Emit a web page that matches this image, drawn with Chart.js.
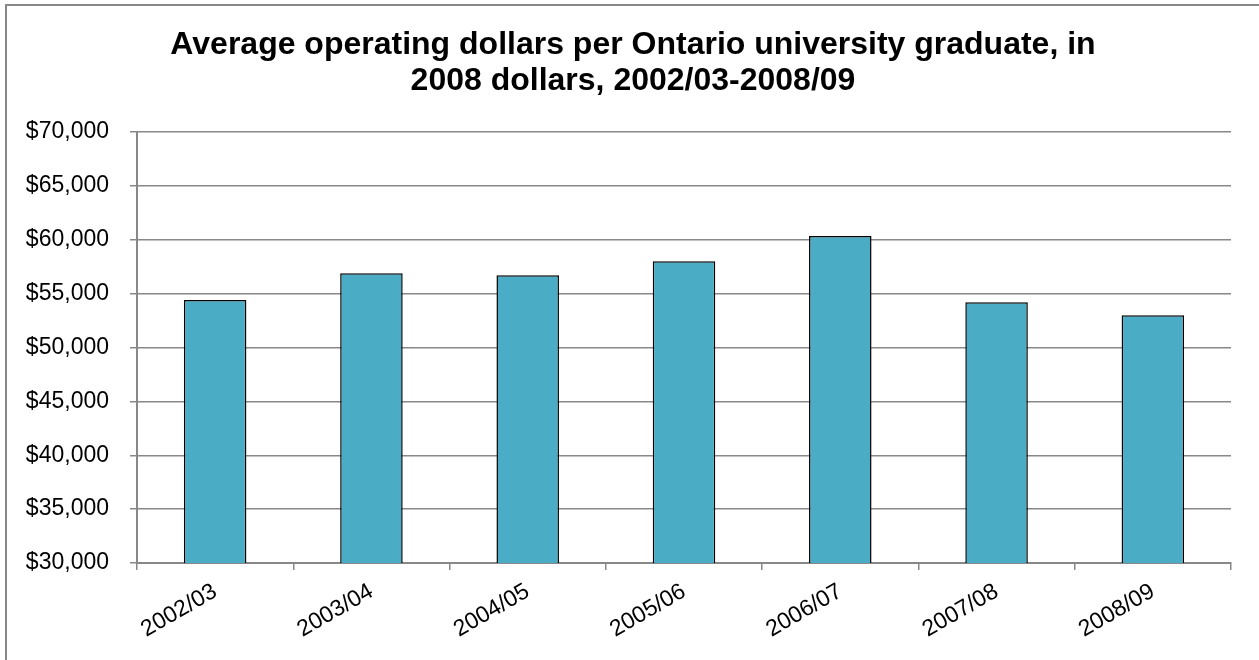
<!DOCTYPE html>
<html>
<head>
<meta charset="utf-8">
<title>Average operating dollars per Ontario university graduate</title>
<script src="https://cdn.jsdelivr.net/npm/chart.js@4/dist/chart.umd.min.js"></script>
<style>
  html, body { margin: 0; padding: 0; background: #fff; overflow: hidden; }
  #wrap { position: relative; width: 1259px; height: 660px; }
  #frame {
    position: absolute; left: 5px; top: 4px; width: 1300px; height: 700px;
    border-left: 2px solid #888; border-top: 2px solid #888; pointer-events: none;
  }
  canvas { position: absolute; left: 0; top: 0; }
</style>
</head>
<body>
<div id="wrap">
  <canvas id="chart" width="1259" height="660"></canvas>
  <div id="frame"></div>
</div>
<script>
var years = ['2002/03', '2003/04', '2004/05', '2005/06', '2006/07', '2007/08', '2008/09'];
var dollarsPerGrad = [54400, 56900, 56700, 58000, 60350, 54200, 53000];
var titleLines = [
    'Average operating dollars per Ontario university graduate, in',
    '2008 dollars, 2002/03-2008/09'
];
var yMin = 30000, yMax = 70000, yStep = 5000;

var FONT = '"Liberation Sans", Arial, sans-serif';
var GRAY = '#888888';

/* title is centred on the whole frame, not on the canvas minus axis padding */
var frameTitle = {
    id: 'frameTitle',
    afterDraw: function(chart, args, opts) {
        var c = chart.ctx;
        c.save();
        c.fillStyle = '#000';
        c.font = 'bold ' + opts.size + 'px ' + FONT;
        c.textAlign = 'center';
        c.textBaseline = 'alphabetic';
        for (var i = 0; i < opts.lines.length; i++) {
            c.fillText(opts.lines[i], opts.x, opts.y + i * opts.lineHeight);
        }
        c.restore();
    }
};

var ctx = document.getElementById('chart').getContext('2d');
var chart = new Chart(ctx, {
    type: 'bar',
    data: {
        labels: years,
        datasets: [{
            data: dollarsPerGrad,
            backgroundColor: '#4BACC6',
            borderColor: '#000000',
            borderWidth: 1.5,
            categoryPercentage: 1,
            barPercentage: 0.4
        }]
    },
    plugins: [frameTitle],
    options: {
        responsive: false,
        animation: false,
        layout: { padding: { left: 6, right: 28, top: 132, bottom: 0 } },
        plugins: {
            legend: { display: false },
            tooltip: { enabled: false },
            title: { display: false },
            frameTitle: { lines: titleLines, size: 32, x: 633, y: 54, lineHeight: 36 }
        },
        scales: {
            x: {
                grid: { drawOnChartArea: false, drawTicks: true, tickLength: 7, color: GRAY, lineWidth: 1.5 },
                border: { display: true, color: GRAY, width: 2 },
                ticks: {
                    color: '#000',
                    font: { family: FONT, size: 23 },
                    maxRotation: 30,
                    minRotation: 30,
                    padding: 8
                },
                afterFit: function(scale) { scale.height = 97; }
            },
            y: {
                min: yMin,
                max: yMax,
                grid: { color: GRAY, lineWidth: 1.5, tickLength: 7 },
                border: { display: true, color: GRAY, width: 2 },
                ticks: {
                    stepSize: yStep,
                    color: '#000',
                    font: { family: FONT, size: 23 },
                    padding: 21,
                    callback: function(v) { return '$' + v.toLocaleString('en-US'); }
                },
                afterFit: function(scale) { scale.width = 131; }
            }
        }
    }
});
</script>
</body>
</html>
